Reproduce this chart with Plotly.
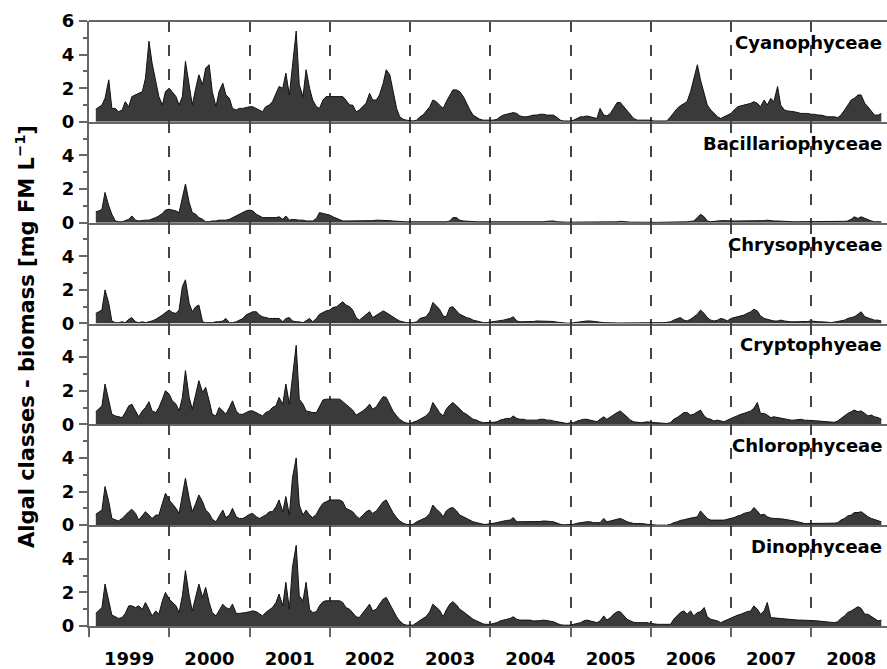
import pandas as pd
import plotly.graph_objects as go
from plotly.subplots import make_subplots

# ---------------- data (semi-monthly samples, Feb 1999 - Dec 2008) ----------------
class_names = ["Cyanophyceae", "Bacillariophyceae", "Chrysophyceae",
               "Cryptophyeae", "Chlorophyceae", "Dinophyceae"]
year_labels = ["1999", "2000", "2001", "2002", "2003", "2004", "2005", "2006", "2007", "2008"]
first_sample = "1999-02-01"
n_samples = 236

cyanophyceae = [
    0.75, 0.9, 1.0, 1.4, 2.5, 0.8, 0.8, 0.6, 0.7, 1.2, 0.9, 1.5, 1.6, 1.7, 1.8, 2.6, 4.8, 3.5, 2.5, 1.5, 1.0, 1.8,  # 1999
    2.0, 1.8, 1.5, 1.0, 1.5, 3.6, 2.0, 1.0, 2.0, 2.8, 2.2, 3.2, 3.4, 1.8, 0.9, 1.8, 2.3, 1.6, 1.4, 0.8, 0.7, 0.8, 0.8, 0.85,  # 2000
    0.9, 0.9, 0.8, 0.7, 0.6, 0.9, 1.0, 1.2, 1.7, 2.1, 2.0, 2.9, 1.6, 3.5, 5.4, 2.2, 1.5, 3.1, 2.0, 1.3, 0.9, 0.8, 1.3, 1.5,  # 2001
    1.5, 1.5, 1.5, 1.5, 1.5, 1.3, 1.0, 1.0, 0.6, 0.7, 0.9, 1.1, 1.7, 1.3, 1.3, 1.6, 2.3, 3.1, 2.8, 1.9, 0.8, 0.3, 0.15, 0.1,  # 2002
    0.05, 0.05, 0.1, 0.3, 0.4, 0.6, 0.9, 1.3, 1.2, 1.0, 0.8, 1.2, 1.6, 1.9, 1.9, 1.8, 1.5, 1.1, 0.7, 0.4, 0.25, 0.15, 0.1, 0.1,  # 2003
    0.1, 0.1, 0.15, 0.3, 0.4, 0.45, 0.5, 0.55, 0.5, 0.35, 0.3, 0.3, 0.35, 0.4, 0.4, 0.45, 0.45, 0.4, 0.4, 0.4, 0.25, 0.1, 0.05, 0.05,  # 2004
    0.05, 0.1, 0.2, 0.3, 0.3, 0.35, 0.3, 0.25, 0.2, 0.8, 0.4, 0.35, 0.5, 0.8, 1.15, 1.15, 0.9, 0.65, 0.4, 0.2, 0.1, 0.1, 0.1, 0.1,  # 2005
    0.1, 0.05, 0.05, 0.05, 0.05, 0.05, 0.3, 0.55, 0.8, 0.95, 1.1, 1.2, 1.8, 2.5, 3.4, 2.5, 1.7, 1.0, 0.7, 0.5, 0.3, 0.2, 0.3, 0.35,  # 2006
    0.5, 0.7, 0.9, 0.95, 1.0, 1.05, 1.1, 1.2, 1.1, 0.9, 1.3, 1.0, 1.4, 1.2, 2.1, 1.0, 0.7, 0.65, 0.6, 0.6, 0.55, 0.5, 0.5, 0.5,  # 2007
    0.45, 0.45, 0.4, 0.4, 0.35, 0.3, 0.3, 0.3, 0.25, 0.4, 0.7, 1.0, 1.3, 1.4, 1.6, 1.6, 1.1, 0.9, 0.6, 0.4, 0.4, 0.5,  # 2008
]

bacillariophyceae = [
    0.65, 0.7, 0.8, 1.8, 1.0, 0.5, 0.1, 0.05, 0.05, 0.1, 0.2, 0.4, 0.15, 0.1, 0.15, 0.15, 0.15, 0.2, 0.3, 0.4, 0.55, 0.75,  # 1999
    0.8, 0.75, 0.7, 0.6, 1.5, 2.3, 1.2, 0.6, 0.5, 0.3, 0.2, 0.05, 0.05, 0.1, 0.1, 0.15, 0.15, 0.15, 0.2, 0.3, 0.4, 0.5, 0.6, 0.7,  # 2000
    0.75, 0.7, 0.5, 0.4, 0.3, 0.3, 0.3, 0.3, 0.3, 0.35, 0.2, 0.4, 0.15, 0.2, 0.15, 0.15, 0.15, 0.1, 0.1, 0.1, 0.25, 0.6, 0.55, 0.5,  # 2001
    0.45, 0.35, 0.25, 0.15, 0.1, 0.1, 0.1, 0.1, 0.1, 0.1, 0.1, 0.1, 0.12, 0.12, 0.15, 0.15, 0.15, 0.15, 0.12, 0.1, 0.1, 0.08, 0.06, 0.05,  # 2002
    0.05, 0.05, 0.05, 0.05, 0.05, 0.05, 0.05, 0.05, 0.05, 0.05, 0.05, 0.05, 0.1, 0.3, 0.3, 0.15, 0.1, 0.08, 0.05, 0.05, 0.05, 0.05, 0.05, 0.05,  # 2003
    0.05, 0.05, 0.05, 0.05, 0.05, 0.05, 0.05, 0.05, 0.05, 0.05, 0.03, 0.03, 0.03, 0.03, 0.03, 0.05, 0.05, 0.08, 0.1, 0.1, 0.05, 0.03, 0.03, 0.03,  # 2004
    0.03, 0.03, 0.03, 0.03, 0.03, 0.03, 0.03, 0.03, 0.03, 0.03, 0.03, 0.03, 0.05, 0.05, 0.05, 0.08, 0.05, 0.03, 0.03, 0.03, 0.02, 0.02, 0.02, 0.02,  # 2005
    0.02, 0.02, 0.02, 0.02, 0.02, 0.03, 0.05, 0.05, 0.05, 0.05, 0.05, 0.05, 0.08, 0.1, 0.3, 0.5, 0.35, 0.1, 0.05, 0.08, 0.1, 0.12, 0.12, 0.1,  # 2006
    0.1, 0.1, 0.1, 0.1, 0.1, 0.1, 0.12, 0.12, 0.1, 0.1, 0.12, 0.15, 0.1, 0.1, 0.1, 0.1, 0.08, 0.08, 0.06, 0.05, 0.05, 0.05, 0.05, 0.05,  # 2007
    0.05, 0.05, 0.05, 0.05, 0.05, 0.05, 0.05, 0.05, 0.05, 0.05, 0.08, 0.1, 0.2, 0.35, 0.25, 0.35, 0.25, 0.15, 0.1, 0.05, 0.05, 0.05,  # 2008
]

chrysophyceae = [
    0.6, 0.7, 0.8, 2.0, 1.2, 0.15, 0.05, 0.05, 0.1, 0.05, 0.25, 0.35, 0.1, 0.05, 0.1, 0.05, 0.1, 0.15, 0.25, 0.35, 0.5, 0.65,  # 1999
    0.8, 0.65, 0.6, 0.8, 2.2, 2.6, 1.2, 0.7, 1.0, 1.1, 0.1, 0.05, 0.05, 0.05, 0.1, 0.1, 0.15, 0.3, 0.05, 0.05, 0.1, 0.2, 0.3, 0.5,  # 2000
    0.6, 0.7, 0.7, 0.5, 0.4, 0.35, 0.3, 0.3, 0.3, 0.3, 0.1, 0.3, 0.35, 0.15, 0.1, 0.1, 0.05, 0.15, 0.3, 0.1, 0.3, 0.55, 0.65, 0.75,  # 2001
    0.8, 0.95, 1.0, 1.15, 1.3, 1.1, 1.0, 0.8, 0.35, 0.2, 0.4, 0.55, 0.7, 0.35, 0.5, 0.6, 0.75, 0.65, 0.5, 0.4, 0.25, 0.15, 0.08, 0.05,  # 2002
    0.05, 0.05, 0.1, 0.3, 0.35, 0.4, 0.7, 1.25, 1.05, 0.85, 0.45, 0.4, 0.95, 1.0, 0.75, 0.55, 0.45, 0.35, 0.3, 0.2, 0.15, 0.1, 0.05, 0.05,  # 2003
    0.08, 0.1, 0.15, 0.15, 0.2, 0.25, 0.3, 0.4, 0.15, 0.1, 0.1, 0.1, 0.1, 0.12, 0.15, 0.15, 0.15, 0.15, 0.15, 0.12, 0.08, 0.05, 0.03, 0.02,  # 2004
    0.02, 0.05, 0.08, 0.1, 0.12, 0.15, 0.15, 0.12, 0.1, 0.08, 0.05, 0.05, 0.03, 0.03, 0.03, 0.03, 0.03, 0.03, 0.03, 0.03, 0.05, 0.05, 0.02, 0.02,  # 2005
    0.02, 0.02, 0.02, 0.03, 0.05, 0.07, 0.1, 0.2, 0.3, 0.35, 0.2, 0.15, 0.25, 0.4, 0.55, 0.8, 0.6, 0.35, 0.2, 0.15, 0.2, 0.3, 0.25, 0.15,  # 2006
    0.3, 0.35, 0.4, 0.45, 0.5, 0.6, 0.7, 0.85, 0.75, 0.45, 0.3, 0.25, 0.2, 0.15, 0.15, 0.2, 0.15, 0.12, 0.1, 0.1, 0.1, 0.1, 0.1, 0.12,  # 2007
    0.15, 0.12, 0.1, 0.1, 0.1, 0.08, 0.05, 0.08, 0.1, 0.15, 0.2, 0.3, 0.35, 0.4, 0.55, 0.7, 0.4, 0.35, 0.25, 0.2, 0.2, 0.15,  # 2008
]

cryptophyceae = [
    0.75, 0.9, 1.1, 2.4, 1.4, 0.6, 0.5, 0.45, 0.4, 0.7, 1.1, 1.2, 0.8, 0.45, 0.8, 1.0, 1.35, 0.8, 0.7, 1.0, 1.5, 2.0,  # 1999
    1.8, 1.4, 1.2, 0.8, 1.6, 3.2, 1.6, 0.9, 1.8, 2.6, 1.9, 2.2, 1.4, 0.6, 0.5, 1.0, 0.8, 0.6, 1.0, 1.4, 0.8, 0.6, 0.6, 0.7,  # 2000
    0.8, 0.8, 0.7, 0.6, 0.5, 0.7, 0.8, 1.0, 1.1, 1.6, 1.2, 2.4, 1.2, 2.8, 4.7, 1.5, 1.2, 0.8, 0.75, 0.7, 0.7, 1.1, 1.45, 1.5,  # 2001
    1.5, 1.5, 1.5, 1.5, 1.35, 1.2, 1.05, 0.85, 0.55, 0.65, 0.8, 0.95, 1.2, 0.9, 1.05, 1.35, 1.65, 1.6, 1.2, 0.8, 0.5, 0.3, 0.15, 0.08,  # 2002
    0.05, 0.1, 0.2, 0.3, 0.4, 0.5, 0.75, 1.3, 1.0, 0.7, 0.5, 0.9, 1.15, 1.3, 1.1, 0.9, 0.7, 0.6, 0.45, 0.3, 0.25, 0.15, 0.1, 0.1,  # 2003
    0.1, 0.12, 0.15, 0.25, 0.3, 0.35, 0.35, 0.5, 0.35, 0.3, 0.3, 0.25, 0.25, 0.25, 0.25, 0.3, 0.3, 0.25, 0.25, 0.2, 0.15, 0.1, 0.08, 0.05,  # 2004
    0.1, 0.1, 0.2, 0.25, 0.3, 0.3, 0.25, 0.2, 0.15, 0.3, 0.45, 0.3, 0.45, 0.55, 0.7, 0.8, 0.6, 0.4, 0.25, 0.15, 0.1, 0.1, 0.12, 0.15,  # 2005
    0.12, 0.1, 0.08, 0.05, 0.05, 0.05, 0.1, 0.3, 0.4, 0.55, 0.7, 0.7, 0.55, 0.6, 0.75, 0.85, 0.5, 0.35, 0.3, 0.2, 0.25, 0.2, 0.15, 0.25,  # 2006
    0.35, 0.45, 0.55, 0.6, 0.65, 0.7, 0.8, 0.95, 1.3, 0.65, 0.65, 0.55, 0.4, 0.45, 0.4, 0.35, 0.3, 0.3, 0.25, 0.25, 0.3, 0.3, 0.25, 0.25,  # 2007
    0.25, 0.22, 0.2, 0.18, 0.15, 0.12, 0.1, 0.12, 0.2, 0.35, 0.5, 0.65, 0.75, 0.85, 0.75, 0.8, 0.65, 0.5, 0.55, 0.45, 0.4, 0.3,  # 2008
]

chlorophyceae = [
    0.65, 0.8, 0.9, 2.3, 1.4, 0.4, 0.3, 0.25, 0.4, 0.6, 0.8, 0.95, 0.7, 0.3, 0.6, 0.8, 0.6, 0.4, 0.6, 0.6, 1.3, 1.9,  # 1999
    1.5, 1.3, 1.0, 0.7, 1.8, 2.8, 1.6, 0.8, 1.3, 1.8, 1.4, 0.9, 0.7, 0.35, 0.2, 0.5, 0.9, 0.45, 0.6, 1.0, 0.5, 0.4, 0.4, 0.5,  # 2000
    0.65, 0.7, 0.5, 0.4, 0.5, 0.6, 0.8, 0.8, 1.1, 1.5, 0.8, 1.7, 0.6, 2.8, 4.0, 1.2, 0.6, 0.9, 0.6, 0.45, 0.65, 1.0, 1.3, 1.4,  # 2001
    1.5, 1.5, 1.5, 1.5, 1.4, 1.0, 0.9, 0.8, 0.55, 0.4, 0.6, 0.8, 0.9, 0.7, 0.85, 1.1, 1.4, 1.5, 1.1, 0.75, 0.45, 0.25, 0.12, 0.05,  # 2002
    0.03, 0.05, 0.2, 0.28, 0.35, 0.45, 0.7, 1.2, 0.95, 0.8, 0.5, 0.85, 1.0, 1.05, 0.85, 0.6, 0.5, 0.4, 0.3, 0.2, 0.15, 0.1, 0.05, 0.05,  # 2003
    0.08, 0.1, 0.15, 0.2, 0.25, 0.28, 0.3, 0.45, 0.2, 0.2, 0.2, 0.2, 0.2, 0.2, 0.2, 0.22, 0.25, 0.25, 0.22, 0.2, 0.1, 0.05, 0.02, 0.02,  # 2004
    0.02, 0.05, 0.12, 0.15, 0.15, 0.2, 0.2, 0.15, 0.15, 0.15, 0.4, 0.2, 0.25, 0.3, 0.35, 0.4, 0.3, 0.2, 0.15, 0.1, 0.1, 0.1, 0.08, 0.05,  # 2005
    0.02, 0.0, 0.0, 0.0, 0.0, 0.0, 0.05, 0.15, 0.2, 0.28, 0.32, 0.38, 0.42, 0.45, 0.5, 0.85, 0.6, 0.4, 0.3, 0.3, 0.3, 0.3, 0.3, 0.35,  # 2006
    0.4, 0.45, 0.55, 0.6, 0.7, 0.75, 0.8, 1.05, 0.85, 0.6, 0.65, 0.5, 0.42, 0.4, 0.4, 0.38, 0.35, 0.33, 0.3, 0.25, 0.2, 0.15, 0.1, 0.1,  # 2007
    0.1, 0.1, 0.1, 0.1, 0.1, 0.1, 0.1, 0.12, 0.15, 0.3, 0.4, 0.55, 0.6, 0.75, 0.75, 0.8, 0.65, 0.5, 0.4, 0.35, 0.25, 0.2,  # 2008
]

dinophyceae = [
    0.75, 0.9, 1.1, 2.5, 1.5, 0.65, 0.55, 0.45, 0.5, 0.75, 1.2, 1.2, 1.1, 1.2, 1.0, 1.4, 1.0, 0.6, 0.9, 0.7, 1.5, 2.0,  # 1999
    1.6, 1.4, 1.2, 0.8, 1.8, 3.3, 1.8, 0.9, 1.8, 2.5, 1.7, 2.3, 1.4, 0.8, 0.6, 0.9, 1.3, 1.1, 1.0, 1.3, 0.75, 0.75, 0.8, 0.8,  # 2000
    0.85, 0.9, 0.85, 0.7, 0.6, 0.8, 0.95, 1.1, 1.4, 1.9, 1.2, 2.6, 1.0, 3.5, 4.8, 1.8, 1.5, 2.6, 1.0, 0.8, 0.85, 1.2, 1.45, 1.5,  # 2001
    1.5, 1.5, 1.5, 1.5, 1.4, 1.1, 1.0, 0.8, 0.55, 0.5, 0.8, 1.0, 1.3, 0.9, 1.0, 1.3, 1.6, 1.7, 1.3, 0.9, 0.55, 0.3, 0.12, 0.05,  # 2002
    0.03, 0.05, 0.2, 0.35, 0.45, 0.55, 0.85, 1.3, 1.1, 0.95, 0.55, 0.95, 1.3, 1.45, 1.25, 1.0, 0.85, 0.7, 0.55, 0.4, 0.3, 0.2, 0.12, 0.1,  # 2003
    0.1, 0.15, 0.2, 0.3, 0.35, 0.4, 0.45, 0.55, 0.4, 0.35, 0.35, 0.35, 0.35, 0.3, 0.3, 0.32, 0.35, 0.32, 0.3, 0.25, 0.15, 0.08, 0.05, 0.05,  # 2004
    0.05, 0.1, 0.15, 0.2, 0.3, 0.35, 0.3, 0.25, 0.2, 0.3, 0.6, 0.35, 0.5, 0.7, 0.85, 0.85, 0.6, 0.4, 0.3, 0.22, 0.2, 0.2, 0.2, 0.2,  # 2005
    0.15, 0.12, 0.1, 0.1, 0.1, 0.1, 0.1, 0.4, 0.6, 0.8, 0.9, 0.7, 0.9, 0.6, 0.8, 0.85, 1.1, 0.55, 0.4, 0.35, 0.3, 0.2, 0.3, 0.35,  # 2006
    0.45, 0.55, 0.65, 0.7, 0.8, 0.85, 0.9, 1.2, 1.0, 0.7, 0.9, 1.4, 0.5, 0.48, 0.45, 0.42, 0.4, 0.4, 0.35, 0.35, 0.35, 0.35, 0.35, 0.35,  # 2007
    0.35, 0.32, 0.3, 0.28, 0.25, 0.25, 0.2, 0.2, 0.25, 0.45, 0.6, 0.8, 0.9, 1.0, 1.15, 1.05, 0.7, 0.7, 0.55, 0.45, 0.3, 0.35,  # 2008
]

series = [cyanophyceae, bacillariophyceae, chrysophyceae,
          cryptophyceae, chlorophyceae, dinophyceae]
for name, s in zip(class_names, series):
    assert len(s) == n_samples, (name, len(s))

sample_dates = pd.date_range(first_sample, periods=n_samples, freq="SMS")

# ---------------- figure ----------------
FONT = "DejaVu Sans"
AXIS_GREY = "#666666"
W, H = 887, 669
ML, MR, MT, MB = 89, 0, 21, 43

fig = make_subplots(rows=6, cols=1, shared_xaxes=True, vertical_spacing=0)

for i, s in enumerate(series):
    fig.add_trace(
        go.Scatter(x=sample_dates, y=s, mode="lines", fill="tozeroy",
                   line=dict(color="#111111", width=1),
                   fillcolor="#3a3a3a", showlegend=False, hoverinfo="skip"),
        row=i + 1, col=1)

for i in range(6):
    last = (i == 5)
    fig.update_xaxes(
        row=i + 1, col=1,
        type="date", range=["1999-01-01", "2008-12-11"],
        dtick="M12", tick0="1999-01-01",
        showgrid=True, gridcolor="#444444", gridwidth=1.5, griddash="11px,13px",
        showline=True, linecolor=AXIS_GREY, linewidth=2, zeroline=False,
        ticks="outside" if last else "", ticklen=9, tickwidth=2, tickcolor=AXIS_GREY,
        ticklabelmode="period", tickformat="%Y",
        showticklabels=last,
        tickfont=dict(family=FONT, size=18, color="black", weight="bold"),
        ticklabelstandoff=6,
    )
    fig.update_yaxes(
        row=i + 1, col=1,
        range=[0, 6], tickmode="array",
        tickvals=[0, 2, 4, 6] if i == 0 else [0, 2, 4],
        ticks="outside", ticklen=8, tickwidth=2, tickcolor=AXIS_GREY,
        minor=dict(tickmode="array", tickvals=[1, 3, 5], ticks="outside",
                   ticklen=4, tickwidth=2, tickcolor=AXIS_GREY),
        showline=True, linecolor=AXIS_GREY, linewidth=2,
        showgrid=False, zeroline=False,
        tickfont=dict(family=FONT, size=18, color="black", weight="bold"),
        ticklabelstandoff=1,
    )
    yref = "y domain" if i == 0 else f"y{i + 1} domain"
    fig.add_annotation(
        text=class_names[i], xref="paper", x=0.9965, xanchor="right",
        yref=yref, y=0.787, yanchor="middle", showarrow=False,
        font=dict(family=FONT, size=18, color="black", weight="bold"))

# top border of the panel stack
fig.add_shape(type="line", xref="paper", yref="paper", x0=0, x1=1, y0=1, y1=1,
              line=dict(color=AXIS_GREY, width=2))

# shared y-axis title
fig.add_annotation(
    text="Algal classes - biomass [mg FM L<sup>\u22121</sup>]",
    xref="paper", x=(25 - ML) / (W - ML - MR), xanchor="center",
    yref="paper", y=(H - MB - 337) / (H - MT - MB), yanchor="middle",
    textangle=-90, showarrow=False,
    font=dict(family=FONT, size=21, color="black", weight="bold"))

fig.update_layout(
    width=W, height=H,
    margin=dict(l=ML, r=MR, t=MT, b=MB),
    plot_bgcolor="white", paper_bgcolor="white",
    showlegend=False,
)

fig.write_html(
    "out.html",
    config={"displayModeBar": False},
    post_script="document.body.style.margin='0';document.body.style.overflow='hidden';",
)
